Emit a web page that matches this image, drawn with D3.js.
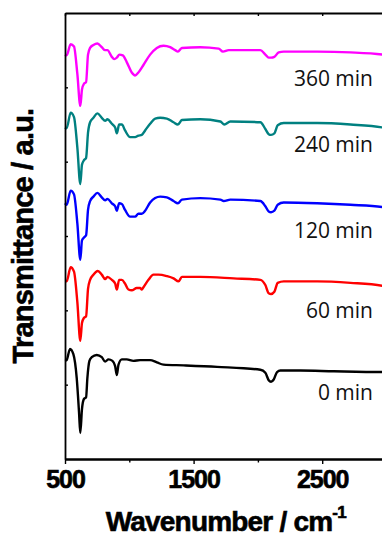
<!DOCTYPE html>
<html>
<head>
<meta charset="utf-8">
<script src="https://cdn.jsdelivr.net/npm/d3@7"></script>
<style>
  body { margin: 0; background: #fff; }
  svg { display: block; }
</style>
</head>
<body>
<svg id="chart"></svg>
<script>
// spectra: wavenumber (cm-1) and stacked transmittance (a.u.)
const wn0 = [500, 513, 539, 565, 591, 609, 619, 632, 648, 664, 674, 690, 708, 747, 786, 812, 838, 869, 890, 903, 916, 942, 980, 1032, 1084, 1162, 1214, 1266, 1422, 1682, 2019, 2058, 2084, 2102, 2123, 2149, 2175, 2331, 2591, 2970, 3000];
const t0 = [1.32, 1.33, 1.48, 1.41, 1.09, 0.63, 0.35, 0.67, 0.81, 0.83, 1.09, 1.32, 1.37, 1.40, 1.37, 1.31, 1.34, 1.32, 1.25, 1.13, 1.27, 1.34, 1.34, 1.32, 1.33, 1.33, 1.30, 1.27, 1.26, 1.24, 1.20, 1.16, 1.06, 1.04, 1.07, 1.17, 1.19, 1.19, 1.18, 1.17, 1.17];

const wn1 = [500, 513, 544, 570, 596, 619, 632, 648, 664, 679, 695, 721, 755, 786, 812, 830, 864, 890, 903, 921, 942, 967, 993, 1019, 1058, 1084, 1097, 1110, 1149, 1188, 1227, 1292, 1344, 1383, 1409, 1552, 1812, 2019, 2058, 2084, 2102, 2128, 2154, 2201, 2461, 2720, 2970, 3000];
const t1 = [2.39, 2.39, 2.58, 2.52, 2.11, 1.59, 1.83, 1.90, 1.92, 2.29, 2.41, 2.48, 2.53, 2.48, 2.42, 2.45, 2.41, 2.36, 2.28, 2.41, 2.41, 2.36, 2.28, 2.27, 2.30, 2.30, 2.28, 2.31, 2.41, 2.48, 2.48, 2.46, 2.43, 2.39, 2.45, 2.45, 2.43, 2.41, 2.34, 2.23, 2.22, 2.25, 2.37, 2.39, 2.39, 2.37, 2.33, 2.32];

const wn2 = [500, 513, 544, 570, 596, 619, 632, 648, 664, 679, 695, 721, 752, 786, 812, 830, 864, 890, 903, 921, 942, 967, 1006, 1045, 1071, 1097, 1123, 1162, 1201, 1240, 1292, 1344, 1378, 1409, 1552, 1708, 1734, 1786, 2019, 2058, 2084, 2102, 2128, 2154, 2201, 2461, 2720, 2970, 3000];
const t2 = [3.44, 3.42, 3.61, 3.56, 3.17, 2.68, 2.94, 2.98, 3.01, 3.35, 3.47, 3.53, 3.58, 3.52, 3.48, 3.50, 3.44, 3.40, 3.34, 3.44, 3.43, 3.35, 3.26, 3.26, 3.30, 3.30, 3.34, 3.45, 3.51, 3.53, 3.52, 3.47, 3.44, 3.49, 3.51, 3.49, 3.47, 3.49, 3.47, 3.40, 3.33, 3.32, 3.34, 3.42, 3.45, 3.44, 3.42, 3.39, 3.38];

const wn3 = [500, 513, 544, 570, 596, 619, 632, 648, 664, 679, 695, 721, 752, 786, 812, 830, 864, 890, 903, 921, 942, 967, 1006, 1045, 1071, 1097, 1123, 1162, 1201, 1240, 1292, 1344, 1378, 1409, 1552, 1708, 1739, 1786, 2019, 2058, 2084, 2102, 2128, 2154, 2201, 2461, 2720, 2970, 3000];
const t3 = [4.46, 4.45, 4.66, 4.60, 4.19, 3.70, 3.96, 4.02, 4.05, 4.39, 4.53, 4.59, 4.65, 4.59, 4.55, 4.57, 4.51, 4.46, 4.38, 4.50, 4.50, 4.42, 4.33, 4.33, 4.35, 4.36, 4.42, 4.51, 4.58, 4.59, 4.58, 4.53, 4.50, 4.56, 4.57, 4.54, 4.50, 4.54, 4.53, 4.44, 4.37, 4.36, 4.38, 4.49, 4.52, 4.52, 4.50, 4.46, 4.45];

const wn4 = [500, 513, 544, 570, 596, 619, 632, 648, 664, 679, 695, 721, 752, 786, 812, 830, 864, 882, 903, 923, 949, 980, 1019, 1045, 1071, 1110, 1162, 1214, 1266, 1318, 1357, 1378, 1409, 1552, 1695, 1728, 1773, 2019, 2058, 2084, 2102, 2128, 2162, 2201, 2461, 2720, 2970, 3000];
const t4 = [5.44, 5.43, 5.58, 5.55, 5.18, 4.75, 4.97, 5.05, 5.07, 5.44, 5.53, 5.57, 5.59, 5.54, 5.50, 5.50, 5.41, 5.38, 5.40, 5.44, 5.43, 5.34, 5.20, 5.16, 5.20, 5.30, 5.44, 5.53, 5.56, 5.54, 5.50, 5.48, 5.53, 5.54, 5.52, 5.48, 5.50, 5.50, 5.44, 5.40, 5.40, 5.41, 5.47, 5.48, 5.48, 5.47, 5.44, 5.43];

const seriesNames = ['0 min', '60 min', '120 min', '240 min', '360 min'];
const seriesColors = ['#000000', '#ff0000', '#0000ff', '#008080', '#ff00ff'];
const labelT = [0.79, 1.90, 2.97, 4.13, 5.02];
const labelWn = 2895;

const xMajor = [500, 1500, 2500];
const xMinor = [1000, 2000, 3000];
const xAll = [500, 1000, 1500, 2000, 2500, 3000];
const yTicks = [1, 2, 3, 4, 5];

const W = 382, H = 539;
const margin = { left: 65, top: 13, bottom: 80 };
const plotRight = 386.5;

const svg = d3.select('#chart')
    .attr('width', W)
    .attr('height', H);

const x = d3.scaleLinear().domain([500, 3000]).range([margin.left, plotRight]);
const y = d3.scaleLinear().domain([0, 6]).range([H - margin.bottom, margin.top]);

const series = [[wn0, t0], [wn1, t1], [wn2, t2], [wn3, t3], [wn4, t4]]
    .map(([w, t], i) => ({
        name: seriesNames[i],
        color: seriesColors[i],
        points: w.map((d, j) => [d, t[j]])
    }));

const line = d3.line()
    .x(d => x(d[0]))
    .y(d => y(d[1]))
    .curve(d3.curveMonotoneX);

// spectra
svg.append('g')
    .attr('class', 'spectra')
    .selectAll('path')
    .data(series)
    .enter()
    .append('path')
    .attr('d', d => line(d.points))
    .attr('fill', 'none')
    .attr('stroke', d => d.color)
    .attr('stroke-width', 2.4)
    .attr('stroke-linejoin', 'round');

// labels
svg.append('g')
    .selectAll('text')
    .data(series)
    .enter()
    .append('text')
    .attr('x', x(labelWn))
    .attr('y', (d, i) => y(labelT[i]))
    .attr('text-anchor', 'end')
    .attr('font-family', '"Open Sans", sans-serif')
    .attr('font-size', 21)
    .attr('fill', '#111')
    .text(d => d.name);

// axes
const axisStyle = g => {
    g.select('.domain').attr('stroke', '#000').attr('stroke-width', 1.8);
    g.selectAll('.tick line').attr('stroke', '#000').attr('stroke-width', 1.4);
};

svg.append('g')
    .attr('transform', `translate(0,${y(0)})`)
    .call(d3.axisBottom(x).tickValues(xMinor).tickSize(3.5).tickFormat('').tickSizeOuter(0))
    .call(axisStyle);

const xAxis = svg.append('g')
    .attr('transform', `translate(0,${y(0)})`)
    .call(d3.axisBottom(x).tickValues(xMajor).tickSize(5).tickPadding(6).tickFormat(d3.format('d')).tickSizeOuter(0))
    .call(axisStyle);

xAxis.selectAll('text')
    .attr('font-family', '"Liberation Sans", Arial, sans-serif')
    .attr('font-weight', 'bold')
    .attr('font-size', 25)
    .attr('letter-spacing', -1)
    .attr('fill', '#000')
    .attr('stroke', '#000')
    .attr('stroke-width', 0.6);

svg.append('g')
    .attr('transform', `translate(0,${y(6)})`)
    .call(d3.axisTop(x).tickValues(xAll).tickSize(-3).tickFormat('').tickSizeOuter(0))
    .call(axisStyle);

svg.append('g')
    .attr('transform', `translate(${x(500)},0)`)
    .call(d3.axisLeft(y).tickValues(yTicks).tickSize(-3).tickFormat('').tickSizeOuter(0))
    .call(axisStyle);

// axis titles
const xTitle = svg.append('text')
    .attr('x', (x(500) + plotRight) / 2)
    .attr('y', 531)
    .attr('text-anchor', 'middle')
    .attr('font-family', '"Liberation Sans", Arial, sans-serif')
    .attr('font-weight', 'bold')
    .attr('font-size', 28)
    .attr('letter-spacing', -0.8)
    .attr('stroke', '#000')
    .attr('stroke-width', 0.6);
xTitle.append('tspan').text('Wavenumber / cm');
xTitle.append('tspan')
    .attr('font-size', 17)
    .attr('dy', -13)
    .text('-1');

svg.append('text')
    .attr('transform', `translate(33,${(y(0) + y(6)) / 2}) rotate(-90)`)
    .attr('text-anchor', 'middle')
    .attr('font-family', '"Liberation Sans", Arial, sans-serif')
    .attr('font-weight', 'bold')
    .attr('font-size', 29)
    .attr('letter-spacing', -0.8)
    .attr('stroke', '#000')
    .attr('stroke-width', 0.6)
    .text('Transmittance / a.u.');
</script>
</body>
</html>
